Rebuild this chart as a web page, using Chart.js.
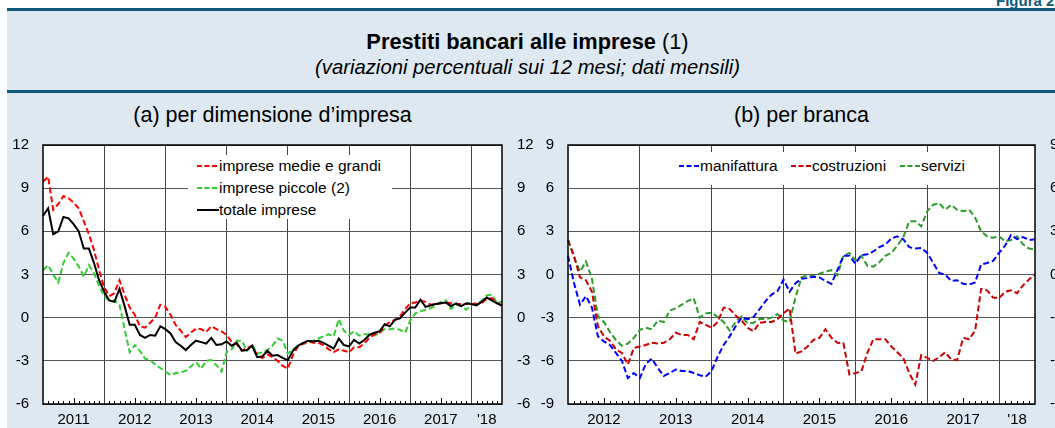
<!DOCTYPE html>
<html>
<head>
<meta charset="utf-8">
<script src="https://cdn.jsdelivr.net/npm/chart.js@4.4.1/dist/chart.umd.min.js"></script>
<style>
  body{margin:0;width:1055px;height:428px;overflow:hidden;background:#fff;position:relative;
       font-family:"Liberation Sans",Arial,sans-serif;color:#000}
  .fondo{position:absolute;left:7px;right:0;background:#dee8f1}
  .riga{position:absolute;left:7px;right:0;height:3px;background:#0d5a7a}
  .testo{position:absolute;white-space:nowrap}
  canvas{position:absolute}
  .leg{position:absolute;background:#fff}
  .voce{position:absolute;font-size:15.5px;line-height:18px;white-space:nowrap}
  .camp{position:absolute}
</style>
</head>
<body>
<div class="testo" style="left:996px;top:-8px;font-weight:bold;font-size:15px;color:#0d5a7a">Figura 2.1</div>
<div class="fondo" style="top:11px;height:79px"></div>
<div class="fondo" style="top:93px;bottom:0"></div>
<div class="riga" style="top:8px"></div>
<div class="riga" style="top:90px"></div>
<div class="testo" style="left:0;width:1055px;text-align:center;top:29px;font-size:21.8px"><b>Prestiti bancari alle imprese</b> (1)</div>
<div class="testo" style="left:0;width:1055px;text-align:center;top:56px;font-size:20.3px;font-style:italic">(variazioni percentuali sui 12 mesi; dati mensili)</div>
<div class="testo" style="left:43px;width:459px;text-align:center;top:103px;font-size:21.5px">(a) per dimensione d’impresa</div>
<div class="testo" style="left:568px;width:467px;text-align:center;top:103px;font-size:21.5px">(b) per branca</div>

<canvas id="graficoA" width="540" height="298" style="left:0;top:130px"></canvas>
<canvas id="graficoB" width="520" height="298" style="left:535px;top:130px"></canvas>

<div class="leg" style="left:188px;top:155px;width:204px;height:64px"></div>
<svg class="camp" style="left:197px;top:164px" width="22" height="4"><line x1="0" y1="2" x2="22" y2="2" stroke="#ff0000" stroke-width="2" stroke-dasharray="5,2.5"/></svg>
<div class="voce" style="left:219px;top:157px">imprese medie e grandi</div>
<svg class="camp" style="left:197px;top:186px" width="22" height="4"><line x1="0" y1="2" x2="22" y2="2" stroke="#33cc33" stroke-width="2" stroke-dasharray="5,2.5"/></svg>
<div class="voce" style="left:219px;top:179px">imprese piccole (2)</div>
<svg class="camp" style="left:197px;top:208px" width="22" height="4"><line x1="0" y1="2" x2="22" y2="2" stroke="#000" stroke-width="2"/></svg>
<div class="voce" style="left:219px;top:201px">totale imprese</div>

<div class="leg" style="left:673px;top:152px;width:300px;height:33px"></div>
<svg class="camp" style="left:679px;top:164px" width="21" height="4"><line x1="0" y1="2" x2="21" y2="2" stroke="#0000ff" stroke-width="2" stroke-dasharray="5,2.5"/></svg>
<div class="voce" style="left:700px;top:157px">manifattura</div>
<svg class="camp" style="left:791px;top:164px" width="21" height="4"><line x1="0" y1="2" x2="21" y2="2" stroke="#cc0000" stroke-width="2" stroke-dasharray="5,2.5"/></svg>
<div class="voce" style="left:812px;top:157px">costruzioni</div>
<svg class="camp" style="left:900px;top:164px" width="21" height="4"><line x1="0" y1="2" x2="21" y2="2" stroke="#2e9b2e" stroke-width="2" stroke-dasharray="5,2.5"/></svg>
<div class="voce" style="left:921px;top:157px">servizi</div>

<script>
// pannello (a): dati mensili da gen 2011 a lug 2018
const anniA = ['2011','2012','2013','2014','2015','2016','2017',"'18"];
const medieGrandi = [9.45, 9.8, 7.5, 7.9, 8.45, 8.3, 8.0, 7.6, 6.7, 5.8,
  4.7, 3.3, 2.1, 1.5, 1.7, 2.6, 1.6, 0.7, 0.2, -0.6,
  -0.7, -0.35, 0.0, 0.9, 0.75, 0.2, -0.5, -0.9, -1.35, -1.05,
  -0.75, -0.8, -1.0, -0.6, -0.8, -0.95, -1.2, -1.7, -1.85, -2.3,
  -2.1, -1.95, -2.6, -2.8, -2.55, -2.75, -3.0, -3.35, -3.55, -2.6,
  -2.0, -1.8, -1.65, -1.75, -1.75, -1.9, -2.2, -2.4, -2.2, -2.3,
  -2.4, -2.05, -2.05, -1.8, -1.4, -1.15, -1.05, -0.6, -0.3, -0.15,
  0.1, 0.6, 1.0, 1.05, 1.2, 1.1, 0.9, 0.95, 1.0, 1.05,
  1.0, 0.95, 0.95, 0.95, 1.0, 0.95, 1.0, 1.3, 1.35, 1.05,
  0.8];
const piccole = [3.3, 3.65, 3.0, 2.45, 3.8, 4.5, 4.1, 3.55, 2.85, 3.65,
  3.1, 2.2, 1.5, 1.15, 1.2, 0.9, -0.8, -2.4, -1.9, -2.3,
  -2.85, -2.95, -3.25, -3.5, -3.75, -4.0, -3.85, -3.8, -3.7, -3.4,
  -3.1, -3.55, -3.0, -2.95, -3.3, -3.75, -2.4, -2.2, -1.6, -1.6,
  -2.3, -1.85, -2.5, -2.4, -2.25, -1.95, -1.45, -1.6, -2.5, -2.2,
  -1.95, -1.85, -1.7, -1.6, -1.45, -1.3, -1.15, -1.3, -0.1, -0.9,
  -1.2, -0.95, -1.25, -1.15, -1.15, -1.25, -1.05, -0.8, -0.8, -0.75,
  -0.85, -1.05, -0.2, 0.3, 0.45, 0.55, 0.65, 0.8, 1.1, 1.2,
  0.6, 0.9, 0.8, 0.55, 0.9, 1.0, 1.15, 1.55, 1.6, 1.05,
  1.1];
const totale = [7.07, 7.6, 5.8, 6.0, 7.0, 6.9, 6.5, 6.0, 4.8, 4.8,
  3.8, 2.6, 1.8, 1.2, 1.1, 2.0, 0.8, -0.5, -0.5, -1.2,
  -1.4, -1.2, -1.25, -0.6, -0.8, -1.1, -1.7, -1.95, -2.25, -1.9,
  -1.6, -1.7, -1.8, -1.4, -1.9, -1.85, -1.65, -1.95, -1.75, -2.3,
  -2.25, -1.95, -2.75, -2.7, -2.3, -2.65, -2.6, -2.8, -2.95, -2.3,
  -1.95, -1.75, -1.6, -1.65, -1.6, -1.75, -1.95, -2.15, -1.45, -1.9,
  -2.0, -1.55, -1.8, -1.55, -1.2, -1.05, -0.95, -0.45, -0.6, -0.15,
  -0.05, 0.35, 0.7, 0.7, 1.25, 0.75, 0.85, 0.95, 1.0, 1.05,
  0.8, 1.0, 0.8, 1.0, 0.95, 0.85, 1.1, 1.4, 1.2, 1.0,
  0.85];

// pannello (b): dati mensili da gen 2012 a lug 2018
const anniB = ['2012','2013','2014','2015','2016','2017',"'18"];
const manifattura = [1.3, -0.6, -2.1, -1.5, -2.3, -4.3, -4.65, -4.9, -5.45, -6.0,
  -7.2, -6.85, -7.2, -6.2, -5.85, -6.5, -7.05, -6.85, -6.6, -6.7,
  -6.7, -6.85, -7.0, -7.1, -6.7, -5.7, -4.9, -4.3, -3.6, -3.0,
  -3.1, -2.95, -2.4, -1.85, -1.4, -1.15, -0.35, -1.2, -0.6, -0.3,
  -0.25, -0.15, -0.2, -0.45, -0.65, 0.3, 1.3, 1.3, 0.75, 1.35,
  1.4, 1.6, 1.9, 2.07, 2.5, 2.65, 2.45, 1.9, 1.8, 1.85,
  1.5, 0.8, 0.1, 0.0, -0.45, -0.4, -0.65, -0.7, -0.55, 0.7,
  0.8, 0.95, 1.5, 2.0, 2.75, 2.45, 2.6, 2.4, 2.45];
const costruzioni = [2.4, 1.3, -0.2, -0.4, -1.2, -3.6, -4.3, -4.6, -5.2, -5.45,
  -6.25, -5.1, -5.0, -4.9, -4.75, -4.8, -4.75, -4.5, -4.05, -4.2,
  -4.2, -4.5, -3.3, -3.5, -3.7, -3.3, -2.3, -2.4, -2.85, -3.2,
  -3.7, -3.95, -3.35, -3.3, -3.3, -3.1, -2.7, -2.35, -5.5, -5.35,
  -5.0, -4.55, -4.4, -3.8, -4.4, -4.75, -4.77, -6.95, -6.85, -6.74,
  -5.45, -4.5, -4.5, -4.5, -5.0, -5.4, -5.8, -6.85, -7.65, -5.6,
  -5.8, -6.0, -5.75, -5.4, -5.9, -5.95, -4.4, -4.5, -3.9, -1.0,
  -1.1, -1.6, -1.65, -1.2, -1.1, -1.3, -0.75, -0.35, 0.0];
const servizi = [2.4, 1.2, 0.2, 0.9, -0.3, -2.9, -3.3, -4.0, -4.55, -4.95,
  -4.8, -4.4, -3.85, -3.7, -3.8, -3.2, -3.3, -2.5, -2.35, -2.1,
  -1.85, -1.65, -3.0, -2.7, -2.65, -2.95, -3.3, -3.9, -3.3, -2.9,
  -3.4, -3.35, -3.1, -3.1, -3.0, -2.75, -3.2, -3.3, -1.6, -0.2,
  -0.05, -0.12, 0.05, 0.2, 0.3, -0.05, 1.3, 1.5, 1.0, 1.3,
  0.6, 0.55, 0.85, 1.3, 1.5, 2.0, 2.6, 3.7, 3.7, 3.35,
  4.4, 4.85, 4.95, 4.5, 4.85, 4.5, 4.4, 4.5, 3.95, 3.0,
  2.65, 2.55, 2.65, 2.3, 2.4, 2.65, 2.1, 1.8, 1.75];

const mesi = (annoIniz, n) => {
  let out = [];
  for (let i = 0; i < n; i++) out.push((annoIniz + Math.floor(i / 12)) + '-' + String(i % 12 + 1).padStart(2, '0'));
  return out;
};

// posizione dell'etichetta dell'anno: a metà del tratto di ogni anno
const posAnno = (k, ultimo) => Math.min(12 * k + 6, (12 * k + ultimo) / 2);

const cornice = {
  id: 'cornice',
  beforeDraw(chart) {
    const {ctx, chartArea: a} = chart;
    ctx.save();
    ctx.fillStyle = '#fff';
    ctx.fillRect(a.left, a.top, a.right - a.left, a.bottom - a.top);
    ctx.restore();
  },
  afterDraw(chart) {
    const {ctx, chartArea: a} = chart;
    const sx = chart.scales.x;
    const ultimo = chart.data.labels.length - 1;
    ctx.save();
    ctx.strokeStyle = '#000';
    ctx.lineWidth = 1;
    ctx.beginPath();
    for (let i = 1; i < ultimo; i++) {
      if (i % 12 === 0) continue;
      const x = Math.round(sx.getPixelForValue(i)) + 0.5;
      const h = (i % 12 === 6) ? 6 : 3;
      ctx.moveTo(x, a.bottom);
      ctx.lineTo(x, a.bottom - h);
    }
    ctx.stroke();
    ctx.lineWidth = 1.5;
    ctx.strokeRect(a.left, a.top, a.right - a.left, a.bottom - a.top);
    ctx.restore();
  }
};

function grafico(id, etichette, anni, serie, ymin, ymax, wSx, wDx) {
  const ultimo = etichette.length - 1;
  const font = {family: '"Liberation Sans", Arial, sans-serif', size: 15};
  const assey = (pos, w) => ({
    type: 'linear', position: pos, min: ymin, max: ymax,
    afterFit: s => { s.width = w; s.paddingTop = 0; s.paddingBottom = 0; },
    grid: {display: pos === 'left', drawTicks: false, color: '#555', lineWidth: 1},
    border: {display: false},
    ticks: {stepSize: 3, padding: pos === 'left' ? 14 : 15, color: '#000', font}
  });
  return new Chart(document.getElementById(id), {
    type: 'line',
    data: {
      labels: etichette,
      datasets: serie.map(s => ({
        label: s.nome, data: s.valori, borderColor: s.colore, borderWidth: 2,
        borderDash: s.tratteggio ? [6, 3] : [], pointRadius: 0, tension: 0, fill: false
      }))
    },
    options: {
      responsive: false, animation: false,
      layout: {padding: {top: 15, left: 0, right: 0, bottom: 0}},
      plugins: {legend: {display: false}, tooltip: {enabled: false}},
      scales: {
        x: {
          type: 'category', offset: false,
          afterFit: s => { s.height = 24; s.paddingLeft = 0; s.paddingRight = 0; },
          grid: {drawTicks: false, lineWidth: 1,
                 color: c => (c.index % 12 === 0 && c.index > 0) ? '#444' : 'rgba(0,0,0,0)'},
          border: {display: false},
          ticks: {
            autoSkip: false, maxRotation: 0, minRotation: 0, padding: 7, color: '#000', font,
            callback: (v, i) => {
              const k = Math.floor(i / 12);
              return (k < anni.length && i === Math.round(posAnno(k, ultimo))) ? anni[k] : '';
            }
          }
        },
        y: assey('left', wSx),
        y2: assey('right', wDx)
      }
    },
    plugins: [cornice]
  });
}

grafico('graficoA', mesi(2011, medieGrandi.length), anniA, [
  {nome: 'totale imprese', valori: totale, colore: '#000000', tratteggio: false},
  {nome: 'imprese medie e grandi', valori: medieGrandi, colore: '#ff0000', tratteggio: true},
  {nome: 'imprese piccole (2)', valori: piccole, colore: '#33cc33', tratteggio: true}
], -6, 12, 43, 38);

grafico('graficoB', mesi(2012, manifattura.length), anniB, [
  {nome: 'manifattura', valori: manifattura, colore: '#0000ff', tratteggio: true},
  {nome: 'costruzioni', valori: costruzioni, colore: '#cc0000', tratteggio: true},
  {nome: 'servizi', valori: servizi, colore: '#2e9b2e', tratteggio: true}
], -9, 9, 33, 20);
</script>
</body>
</html>
